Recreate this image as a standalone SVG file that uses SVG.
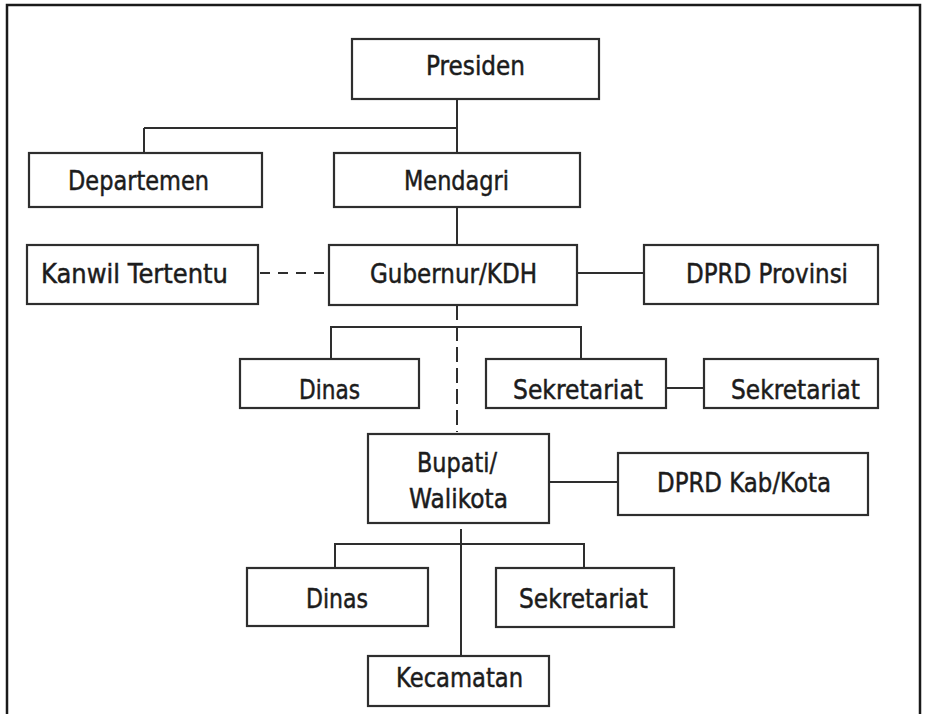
<svg xmlns="http://www.w3.org/2000/svg" width="925" height="714" viewBox="0 0 925 714">
  <style>
    .box { fill: #ffffff; stroke: #2e2e2e; stroke-width: 2.2; }
    .lbl { font-family: "DejaVu Sans", "Liberation Sans", sans-serif; font-size: 26px; fill: #1c1c1c; stroke: #1c1c1c; stroke-width: 0.5; }
    .ln { fill: none; stroke: #2e2e2e; stroke-width: 2; }
    .dash { fill: none; stroke: #2e2e2e; stroke-width: 2; stroke-dasharray: 10 8; }
    .dashv { fill: none; stroke: #2e2e2e; stroke-width: 2; stroke-dasharray: 15 6; }
  </style>
  <rect width="925" height="714" fill="#ffffff"/>
  <!-- outer frame (open at the bottom) -->
  <path d="M7,714 V5 H920 V714" fill="none" stroke="#1a1a1a" stroke-width="2.5"/>

  <g id="connectors">
    <path class="ln" d="M457,99 V153"/>
    <path class="ln" d="M144,128 H457"/>
    <path class="ln" d="M144,128 V153"/>
    <path class="ln" d="M457,207 V245"/>
    <path class="dash" d="M260,273 H329"/>
    <path class="ln" d="M577,273 H644"/>
    <path class="dashv" d="M457,305 V432"/>
    <path class="ln" d="M331,359 V327 H581 V359"/>
    <path class="ln" d="M666,388 H704"/>
    <path class="ln" d="M549,482 H618"/>
    <path class="ln" d="M461,529 V656"/>
    <path class="ln" d="M335,568 V544 H584 V568"/>
  </g>

  <g id="presiden">
    <rect class="box" x="352" y="39" width="247" height="60"/>
    <text class="lbl" x="426" y="75" textLength="99" lengthAdjust="spacingAndGlyphs">Presiden</text>
  </g>
  <g id="departemen">
    <rect class="box" x="29" y="153" width="233" height="54"/>
    <text class="lbl" x="68" y="190" textLength="141" lengthAdjust="spacingAndGlyphs">Departemen</text>
  </g>
  <g id="mendagri">
    <rect class="box" x="334" y="153" width="246" height="54"/>
    <text class="lbl" x="404" y="190" textLength="105" lengthAdjust="spacingAndGlyphs">Mendagri</text>
  </g>
  <g id="kanwil">
    <rect class="box" x="27" y="245" width="231" height="59"/>
    <text class="lbl" x="41" y="283" textLength="187" lengthAdjust="spacingAndGlyphs">Kanwil Tertentu</text>
  </g>
  <g id="gubernur">
    <rect class="box" x="329" y="245" width="248" height="60"/>
    <text class="lbl" x="370" y="283" textLength="167" lengthAdjust="spacingAndGlyphs">Gubernur/KDH</text>
  </g>
  <g id="dprd-provinsi">
    <rect class="box" x="644" y="245" width="234" height="59"/>
    <text class="lbl" x="686" y="283" textLength="162" lengthAdjust="spacingAndGlyphs">DPRD Provinsi</text>
  </g>
  <g id="dinas-prov">
    <rect class="box" x="240" y="359" width="179" height="49"/>
    <text class="lbl" x="299" y="399" textLength="61" lengthAdjust="spacingAndGlyphs">Dinas</text>
  </g>
  <g id="sekretariat-prov">
    <rect class="box" x="486" y="359" width="180" height="49"/>
    <text class="lbl" x="513" y="399" textLength="130" lengthAdjust="spacingAndGlyphs">Sekretariat</text>
  </g>
  <g id="sekretariat-dprd-prov">
    <rect class="box" x="704" y="359" width="174" height="49"/>
    <text class="lbl" x="731" y="399" textLength="129" lengthAdjust="spacingAndGlyphs">Sekretariat</text>
  </g>
  <g id="bupati">
    <rect class="box" x="368" y="434" width="181" height="89"/>
    <text class="lbl" x="417" y="472" textLength="80" lengthAdjust="spacingAndGlyphs">Bupati/</text>
    <text class="lbl" x="409" y="508" textLength="99" lengthAdjust="spacingAndGlyphs">Walikota</text>
  </g>
  <g id="dprd-kabkota">
    <rect class="box" x="618" y="453" width="250" height="62"/>
    <text class="lbl" x="657" y="492" textLength="174" lengthAdjust="spacingAndGlyphs">DPRD Kab/Kota</text>
  </g>
  <g id="dinas-kab">
    <rect class="box" x="247" y="568" width="181" height="58"/>
    <text class="lbl" x="306" y="608" textLength="62" lengthAdjust="spacingAndGlyphs">Dinas</text>
  </g>
  <g id="sekretariat-kab">
    <rect class="box" x="496" y="568" width="178" height="59"/>
    <text class="lbl" x="519" y="608" textLength="129" lengthAdjust="spacingAndGlyphs">Sekretariat</text>
  </g>
  <g id="kecamatan">
    <rect class="box" x="368" y="656" width="181" height="50"/>
    <text class="lbl" x="396" y="687" textLength="127" lengthAdjust="spacingAndGlyphs">Kecamatan</text>
  </g>
</svg>
